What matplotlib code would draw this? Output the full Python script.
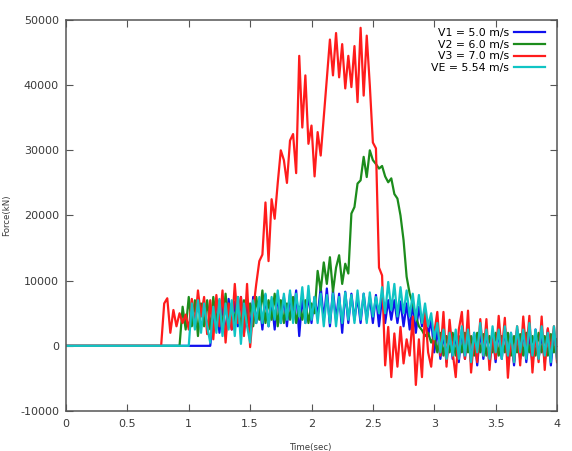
#!/usr/bin/env python3
"""
Impact force history for the three test speeds plus the estimated one.

Writes out.png (572x451).
"""

import matplotlib

matplotlib.use("Agg")
import matplotlib.pyplot as plt
import numpy as np
from matplotlib.ticker import FuncFormatter, MultipleLocator

OUTPUT = "out.png"

# force samples in thousands of kN, dt = 0.025 s, each list ends at t = 4.0 s
V1_START = 1.175
v1_force = [
    0.0,
    4.5, 7.0, 2.0, 6.5, 1.5, 7.2, 2.5, 6.8,
    3.0, 7.5, 2.0, 6.5, 2.5, 7.5, 3.5, 7.0,
    2.5, 7.8, 3.0, 7.0, 2.5, 8.0, 3.5, 7.5,
    3.0, 8.0, 4.0, 8.5, 1.5, 7.5, 3.5, 8.0,
    3.5, 7.5, 4.5, 9.0, 4.0, 8.8, 3.0, 8.5,
    4.0, 8.0, 2.0, 8.3, 3.5, 8.0, 4.0, 7.5,
    3.5, 8.0, 4.0, 7.5, 3.5, 7.8, 3.0, 7.5,
    3.5, 7.0, 4.0, 7.0, 3.5, 6.8, 3.0, 6.5,
    2.5, 6.5, 2.0, 6.0, 3.0, 5.5, 1.5, 4.0,
    -1.0, 2.5, -2.0, 2.0, -2.5, 2.5, -2.0, 2.0,
    -2.5, 2.5, -2.0, 2.8, -2.5, 2.0, -3.0, 2.5,
    -2.0, 2.5, -2.8, 2.0, -2.5, 2.5, -2.0, 2.8,
    -2.5, 2.0, -3.0, 2.5, -2.0, 2.5, -2.5, 2.0,
    -2.8, 2.5, -2.0, 2.0, -2.5, 2.5, -3.0, 2.0,
    -1.0,
]

V2_START = 0.925
v2_force = [
    0.0, 6.0, 2.5,
    7.5, 3.0, 7.0, 1.5, 6.5, 3.0, 7.0, 2.5,
    7.5, 3.5, 7.0, 2.5, 8.0, 3.0, 6.5, 3.5,
    7.5, 2.5, 7.0, 3.5, 6.5, 3.0, 7.5, 4.0,
    8.5, 3.5, 7.0, 4.0, 8.0, 3.0, 7.0, 3.5,
    6.5, 4.0, 7.5, 3.5, 6.0, 4.0, 7.0, 3.5,
    6.5, 5.0, 11.5, 8.5, 12.8, 9.5, 13.6, 8.3,
    12.0, 13.9, 9.5, 12.6, 11.1, 20.3, 21.3, 24.9,
    25.4, 29.0, 25.9, 30.0, 28.5, 27.9, 27.2, 27.6,
    26.0, 25.1, 25.7, 23.3, 22.6, 20.0, 16.2, 10.6,
    8.0, 6.5, 4.5, 3.0, 2.4, 1.5, 2.0, 0.5,
    1.5, -1.0, 2.0, -1.5, 1.5, -1.0, 2.0, -1.5,
    1.5, -1.0, 2.0, -1.0, 1.5, -1.5, 2.0, -1.0,
    1.8, -1.5, 1.5, -1.0, 2.0, -1.5, 1.5, -1.0,
    2.0, -1.5, 1.5, -1.0, 1.8, -1.5, 2.0, -1.0,
    1.5, -1.5, 2.0, -1.0, 1.5, -1.5, 1.8, -1.0,
    1.0,
]

V3_START = 0.775
v3_force = [
    0.0,
    6.5, 7.3, 2.0, 5.5, 3.0, 5.0, 3.5, 4.8,
    2.5, 7.2, 3.0, 8.5, 4.5, 7.5, 1.8, 7.0,
    1.0, 7.8, 3.0, 8.5, 0.5, 6.5, 2.5, 9.5,
    3.5, 7.5, 1.5, 9.5, -0.2, 5.5, 9.5, 13.0,
    14.0, 22.0, 13.0, 22.5, 19.5, 25.0, 30.0, 28.5,
    25.0, 31.5, 32.5, 26.5, 44.5, 33.5, 41.5, 31.0,
    33.8, 26.0, 32.8, 29.2, 35.0, 41.0, 47.0, 41.5,
    48.0, 41.2, 46.3, 39.5, 44.5, 39.7, 46.0, 37.4,
    48.8, 38.4, 47.6, 40.0, 31.2, 30.3, 12.0, 10.8,
    -3.0, 2.9, -4.8, 1.9, -3.2, 2.9, -2.7, 1.0,
    -1.5, 4.5, -6.0, 1.0, -4.8, 5.5, -1.0, -3.2,
    2.0, 5.2, -1.5, 5.2, -3.2, 4.0, -1.0, -4.8,
    2.5, 5.2, -2.0, 5.4, -4.1, 1.5, -2.5, 4.1,
    -1.5, 4.1, -3.7, 2.0, -2.0, 4.6, -1.0, 4.3,
    -4.9, 1.5, -2.5, 3.0, -3.0, 4.5, -1.0, 4.6,
    -4.1, 2.0, -2.5, 4.5, -3.7, 2.7, -1.0, 3.0,
    -2.5,
]

VE_START = 1.0
ve_force = [
    0.0, 6.5, 2.5, 7.0, 2.0, 6.5, 3.0, 0.5,
    6.0, 2.0, 7.2, 1.5, 6.5, 2.5, 7.0, 1.5,
    7.5, 0.3, 6.5, 3.0, 0.5, 7.0, 3.5, 7.5,
    3.5, 8.0, 3.0, 7.5, 4.0, 8.5, 3.5, 8.0,
    4.0, 8.5, 3.5, 8.0, 4.5, 9.0, 3.5, 9.2,
    4.0, 7.5, 3.5, 8.0, 3.0, 7.8, 3.5, 8.0,
    3.0, 7.5, 3.5, 8.2, 4.0, 7.8, 3.5, 8.5,
    4.0, 8.0, 3.5, 8.2, 4.5, 7.5, 5.0, 9.0,
    5.0, 9.8, 5.5, 9.5, 4.5, 9.0, 5.0, 8.5,
    4.5, 8.0, 4.0, 7.8, 3.5, 6.5, 3.0, 5.0,
    1.0, 3.5, -1.0, 2.5, -2.0, 2.0, -1.5, 2.5,
    -2.0, 3.0, -1.5, 2.5, -2.5, 2.0, -1.0, 3.5,
    -1.5, 2.5, -2.0, 3.0, -1.0, 2.5, -2.0, 3.0,
    -1.5, 2.0, -2.5, 3.0, -1.0, 2.5, -2.0, 3.5,
    -1.5, 2.5, -2.0, 3.0, -1.5, 2.0, -2.5, 3.0,
    -2.0,
]

T_END = 4.0

SERIES = [
    ("V1 = 5.0 m/s", V1_START, v1_force, "#1010ee"),
    ("V2 = 6.0 m/s", V2_START, v2_force, "#1c8c1c"),
    ("V3 = 7.0 m/s", V3_START, v3_force, "#ff1c1c"),
    ("VE = 5.54 m/s", VE_START, ve_force, "#10c4c4"),
]


def series_xy(start, force_k):
    t = np.linspace(start, T_END, len(force_k))
    f = np.asarray(force_k) * 1000.0
    # flat zero line before the impact starts
    return np.concatenate([[0.0], t]), np.concatenate([[0.0], f])


def main():
    fig = plt.figure(figsize=(5.72, 4.51), dpi=100)
    ax = fig.add_axes([66 / 572, 1 - 411 / 451, 491 / 572, 391 / 451])

    for label, start, force_k, color in SERIES:
        t, f = series_xy(start, force_k)
        ax.plot(t, f, color=color, linewidth=1.6, label=label)

    ax.set_xlim(0, 4)
    ax.set_ylim(-10000, 50000)
    ax.xaxis.set_major_locator(MultipleLocator(0.5))
    ax.yaxis.set_major_locator(MultipleLocator(10000))
    ax.xaxis.set_major_formatter(FuncFormatter(lambda v, _: f"{v:g}"))
    ax.yaxis.set_major_formatter(FuncFormatter(lambda v, _: f"{v:.0f}"))

    frame = "#555555"
    for sp in ax.spines.values():
        sp.set_color(frame)
        sp.set_linewidth(1.1)
    ax.tick_params(
        direction="in", length=5, width=0.8, color=frame,
        top=True, right=True, labelsize=8, labelcolor="#3a3a3a",
    )
    ax.tick_params(axis="x", pad=6)
    ax.tick_params(axis="y", pad=5)

    ax.set_xlabel("Time(sec)", fontsize=6.2, color="#3a3a3a")
    ax.set_ylabel("Force(kN)", fontsize=6.2, color="#3a3a3a")
    ax.xaxis.set_label_coords(0.5, -0.081)
    ax.yaxis.set_label_coords(-0.112, 0.5)

    ax.legend(
        loc="upper right",
        bbox_to_anchor=(0.976, 0.979),
        borderaxespad=0,
        borderpad=0,
        frameon=False,
        markerfirst=False,
        fontsize=7.8,
        handlelength=2.9,
        handletextpad=0.45,
        labelspacing=0.15,
    )

    fig.savefig(OUTPUT, dpi=100)
    plt.close(fig)


if __name__ == "__main__":
    main()
